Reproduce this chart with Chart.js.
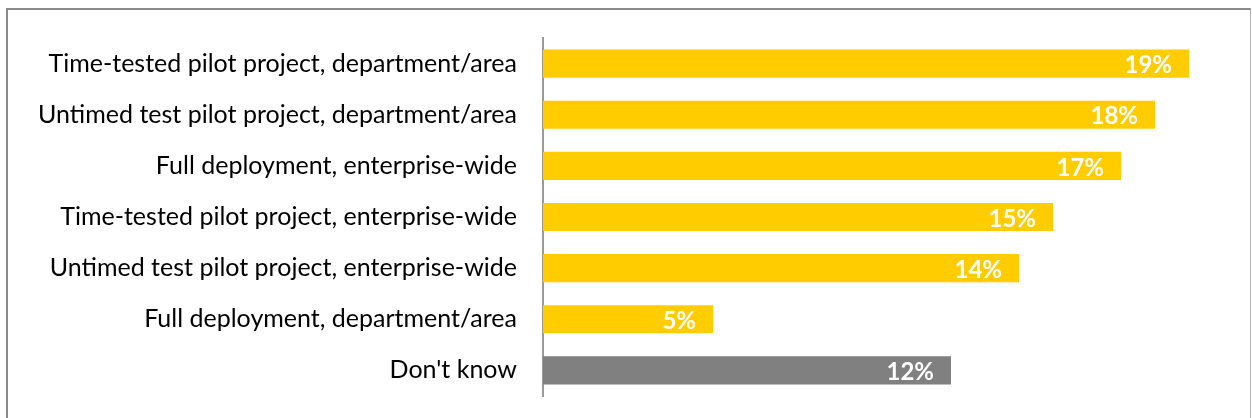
<!DOCTYPE html>
<html>
<head>
<meta charset="utf-8">
<script src="https://cdn.jsdelivr.net/npm/chart.js@4/dist/chart.umd.min.js"></script>
<style>
  html, body { margin: 0; padding: 0; background: #ffffff; }
  #wrap { position: relative; width: 1252px; height: 418px; overflow: hidden; }
  #frame {
    position: absolute; left: 6px; top: 8px; width: 1245px; height: 430px;
    border-left: 2px solid #8a8a8a; border-top: 2px solid #8a8a8a; border-right: 1px solid #b4b4b4;
    box-sizing: border-box;
  }
  canvas { position: absolute; left: 0; top: 0; }
</style>
</head>
<body>
<div id="wrap">
  <div id="frame"></div>
  <canvas id="chart" width="1252" height="418"></canvas>
</div>
<script>
// Deployment stage of respondents
const categories = [
  "Time-tested pilot project, department/area",
  "Untimed test pilot project, department/area",
  "Full deployment, enterprise-wide",
  "Time-tested pilot project, enterprise-wide",
  "Untimed test pilot project, enterprise-wide",
  "Full deployment, department/area",
  "Don't know"
];
const shares = [19, 18, 17, 15, 14, 5, 12];
const barColors = ["#FFCC00", "#FFCC00", "#FFCC00", "#FFCC00", "#FFCC00", "#FFCC00", "#808080"];

// Percentage labels drawn inside the end of each bar
const barValueLabels = {
  id: "barValueLabels",
  afterDatasetsDraw(chart) {
    const ctx = chart.ctx;
    const meta = chart.getDatasetMeta(0);
    ctx.save();
    ctx.font = "bold 24px Lato";
    ctx.fillStyle = "#ffffff";
    ctx.textAlign = "right";
    ctx.textBaseline = "middle";
    meta.data.forEach((bar, i) => {
      ctx.fillText(shares[i] + "%", bar.x - 17, bar.y + 2);
    });
    ctx.restore();
  }
};

new Chart(document.getElementById("chart"), {
  type: "bar",
  data: {
    labels: categories,
    datasets: [{
      data: shares,
      backgroundColor: barColors,
      borderWidth: 0,
      barPercentage: 0.55,
      categoryPercentage: 1.0
    }]
  },
  options: {
    indexAxis: "y",
    responsive: false,
    animation: false,
    layout: { padding: { top: 38, bottom: 22, left: 0, right: 29 } },
    plugins: { legend: { display: false }, tooltip: { enabled: false } },
    scales: {
      x: {
        display: false,
        min: 0,
        max: 20
      },
      y: {
        grid: { display: false, drawTicks: false },
        border: { display: true, color: "#9a9a9a", width: 2 },
        ticks: {
          color: "#000000",
          font: { family: "Lato", size: 25 },
          padding: 26
        },
        afterFit(scale) {
          scale.width = 543;
          scale.paddingTop = 0;
          scale.paddingBottom = 0;
        }
      }
    }
  },
  plugins: [barValueLabels]
});
</script>
</body>
</html>
